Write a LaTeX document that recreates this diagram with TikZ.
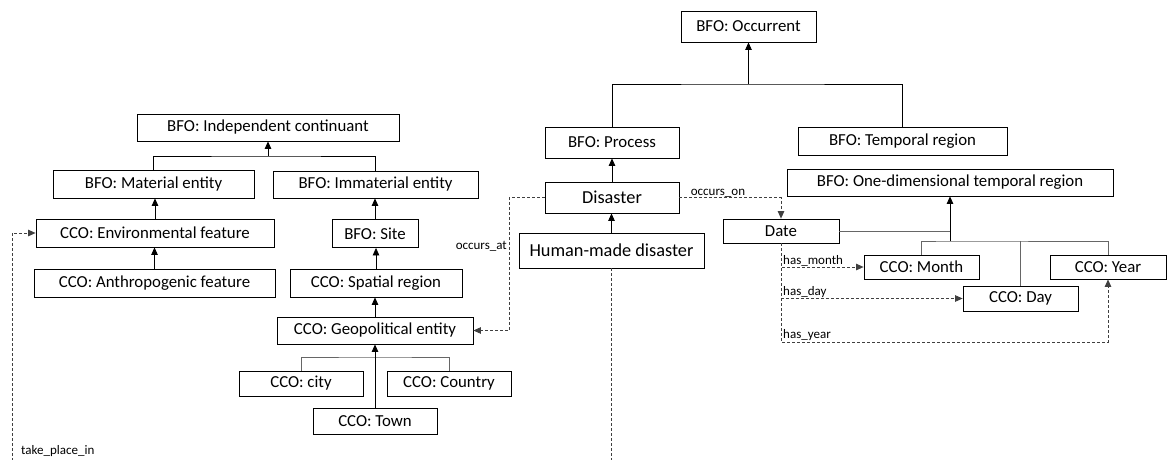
\documentclass[tikz,border=0pt]{standalone}
\usepackage{fontspec}
\setmainfont{Carlito}
\usetikzlibrary{arrows.meta, positioning}

\begin{document}
\begin{tikzpicture}[x=1pt, y=-1pt, >={Triangle[length=7.5pt,width=6.5pt]}]
	\tikzstyle{cls} = [draw, line width=0.8pt, rectangle, inner sep=0pt, font=\fontsize{16.8}{19}\selectfont]
	\tikzstyle{big} = [font=\fontsize{18.3}{21}\selectfont]
	\tikzstyle{isa} = [line width=0.8pt]
	\tikzstyle{sub} = [line width=0.8pt, black!60]
	\tikzstyle{rel} = [dash pattern=on 3pt off 2pt, line width=0.7pt, black!75]
	\tikzstyle{lbl} = [inner sep=1pt, font=\fontsize{13}{15}\selectfont]

	\clip (0,0) rectangle (1167,459);

	% continuants
	\node[cls, minimum width=262, minimum height=27] (indep) at (268,127.5) {BFO: Independent continuant};
	\node[cls, minimum width=201, minimum height=28] (mat) at (153.5,184) {BFO: Material entity};
	\node[cls, minimum width=205, minimum height=27] (immat) at (375.5,184.5) {BFO: Immaterial entity};
	\node[cls, minimum width=238, minimum height=28] (env) at (155,233) {CCO: Environmental feature};
	\node[cls, minimum width=86, minimum height=28] (site) at (375,233.5) {BFO: Site};
	\node[cls, minimum width=241, minimum height=28] (anth) at (154.5,283) {CCO: Anthropogenic feature};
	\node[cls, minimum width=172, minimum height=28] (spat) at (376,283) {CCO: Spatial region};
	\node[cls, minimum width=196, minimum height=27] (geo) at (375,330.5) {CCO: Geopolitical entity};
	\node[cls, minimum width=124, minimum height=25] (city) at (301,383.5) {CCO: city};
	\node[cls, minimum width=124, minimum height=25] (country) at (449,383.5) {CCO: Country};
	\node[cls, minimum width=124, minimum height=26] (town) at (375,421) {CCO: Town};

	% occurrents
	\node[cls, minimum width=135, minimum height=31] (occ) at (748.5,26.5) {BFO: Occurrent};
	\node[cls, minimum width=134, minimum height=31] (proc) at (612,142.5) {BFO: Process};
	\node[cls, minimum width=209, minimum height=28] (temp) at (902.5,141.5) {BFO: Temporal region};
	\node[cls, minimum width=326, minimum height=27] (onedim) at (950,182.5) {BFO: One-dimensional temporal region};
	\node[cls, big, minimum width=134, minimum height=31] (dis) at (612,197.5) {Disaster};
	\node[cls, big, minimum width=185, minimum height=35] (human) at (611.5,250.5) {Human-made disaster};
	\node[cls, minimum width=116, minimum height=24] (date) at (781,231) {Date};
	\node[cls, minimum width=115, minimum height=24] (month) at (921.5,267) {CCO: Month};
	\node[cls, minimum width=116, minimum height=24] (year) at (1108,267) {CCO: Year};
	\node[cls, minimum width=115, minimum height=25] (day) at (1020.5,298.5) {CCO: Day};

	% junctions and bends
	\coordinate (indj) at (268,156);
	\coordinate (occj) at (748.5,84);
	\coordinate (geoj) at (375,357);
	\coordinate (dj) at (950,241);
	\coordinate (atx) at (509,0);
	\coordinate (ybend) at (1108,342);
	\coordinate (tpbend) at (12,480);

	% subclass links
	\draw[isa] (mat.north) |- (indj) -| (immat.north);
	\draw[isa, ->] (indj) -- (indep.south);
	\draw[isa, ->] (env.north) -- (env.north |- mat.south);
	\draw[isa, ->] (anth.north) -- (anth.north |- env.south);
	\draw[isa, ->] (site.north) -- (site.north |- immat.south);
	\draw[isa, ->] (spat.north) -- (spat.north |- site.south);
	\draw[isa, ->] (geo.north) -- (geo.north |- spat.south);
	\draw[sub] (city.north) |- (geoj) -| (country.north);
	\draw[isa, ->] (town.north) -- (geo.south);

	\draw[isa] (proc.north) |- (occj) -| (temp.north);
	\draw[isa, ->] (occj) -- (occ.south);
	\draw[isa, ->] (dis.north) -- (proc.south);
	\draw[isa, ->] (human.north) -- (human.north |- dis.south);
	\draw[sub] (date.east) -- (date.east -| dj);
	\draw[sub] (month.north) |- (dj) -| (year.north);
	\draw[sub] (day.north) -- (day.north |- dj);
	\draw[isa, ->] (dj) -- (onedim.south);

	% relations
	\draw[rel, ->] (dis.east) -| (date.north);
	\node[lbl, anchor=south] at (718,198) {occurs\_on};
	\draw[rel, ->] (dis.west) -- (dis.west -| atx) |- (geo.east);
	\node[lbl, anchor=east] at (508,246) {occurs\_at};
	\draw[rel, ->] (date.south) |- (month.west);
	\draw[rel, ->] (date.south) |- (day.west);
	\draw[rel, ->] (date.south) |- (ybend) -- (year.south);
	\node[lbl, anchor=south west] at (782,267) {has\_month};
	\node[lbl, anchor=south west] at (782,298.5) {has\_day};
	\node[lbl, anchor=south west] at (782,342) {has\_year};
	\draw[rel, ->] (human.south) |- (tpbend) |- (env.west);
	\node[lbl, anchor=west] at (20,451) {take\_place\_in};
\end{tikzpicture}
\end{document}
